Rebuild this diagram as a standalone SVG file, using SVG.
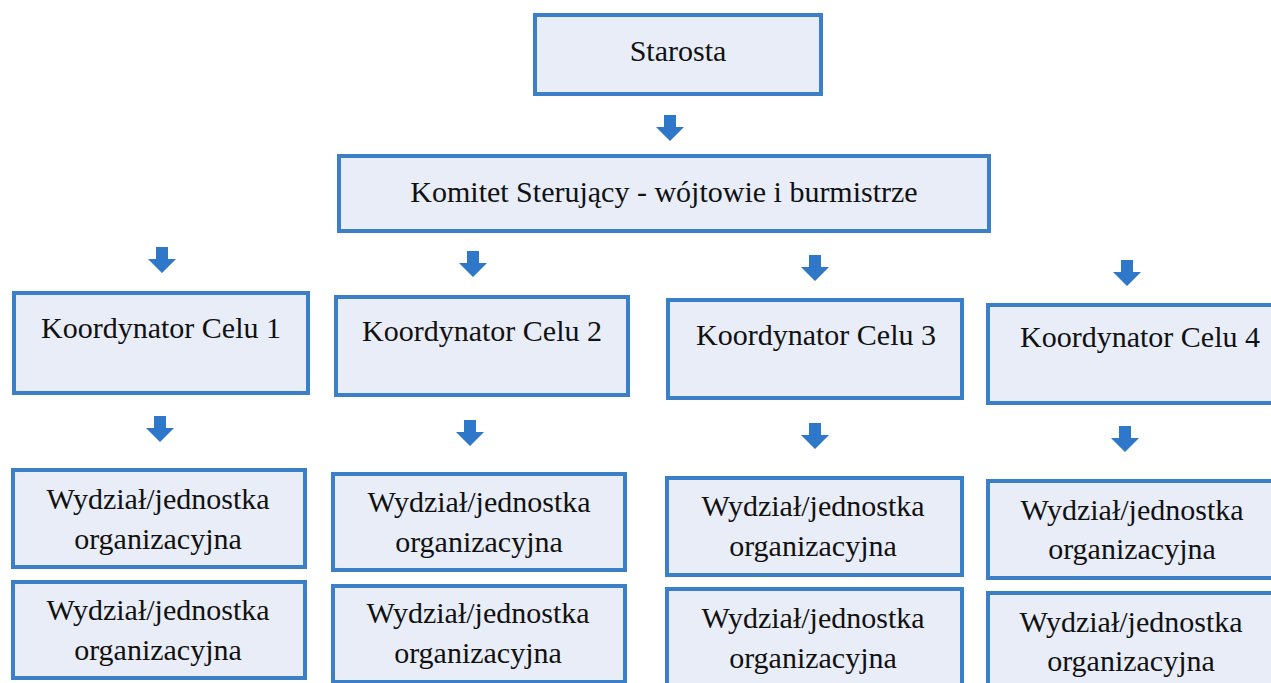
<svg xmlns="http://www.w3.org/2000/svg" width="1271" height="683" viewBox="0 0 1271 683">
<defs>
<style>
.box{fill:#e8edf8;stroke:#3b7fc9;stroke-width:4}
.t{font-family:"Liberation Serif","DejaVu Serif",serif;font-size:30px;fill:#111;text-anchor:middle}
.arr{fill:#2f77c8}
</style>
<path id="a" d="M-6,0 H6 V12 H14 L0,26 L-14,12 H-6 Z"/>
</defs>
<rect width="1271" height="683" fill="#ffffff"/>
<g id="connectors">
<use href="#a" class="arr" x="670" y="115"/>
<use href="#a" class="arr" x="162" y="247"/>
<use href="#a" class="arr" x="473" y="251"/>
<use href="#a" class="arr" x="815" y="255"/>
<use href="#a" class="arr" x="1127" y="260"/>
<use href="#a" class="arr" x="160" y="416"/>
<use href="#a" class="arr" x="470" y="420"/>
<use href="#a" class="arr" x="815" y="423"/>
<use href="#a" class="arr" x="1125" y="426"/>
</g>
<g id="starosta"><rect class="box" x="535" y="15" width="286" height="79"/><text class="t" x="678" y="61">Starosta</text></g>
<g id="komitet"><rect class="box" x="339" y="156" width="650" height="75"/><text class="t" x="664" y="202">Komitet Sterujący - wójtowie i burmistrze</text></g>
<g id="k1"><rect class="box" x="14" y="293" width="294" height="100"/><text class="t" x="161" y="338">Koordynator Celu 1</text></g>
<g id="k2"><rect class="box" x="336" y="297" width="292" height="98"/><text class="t" x="482" y="341">Koordynator Celu 2</text></g>
<g id="k3"><rect class="box" x="668" y="300" width="294" height="98"/><text class="t" x="816" y="345">Koordynator Celu 3</text></g>
<g id="k4"><rect class="box" x="988" y="305" width="290" height="98"/><text class="t" x="1140" y="347">Koordynator Celu 4</text></g>
<g id="w1a"><rect class="box" x="13" y="470" width="292" height="97"/><text class="t" x="158" y="509">Wydział/jednostka</text><text class="t" x="158" y="549">organizacyjna</text></g>
<g id="w1b"><rect class="box" x="13" y="582" width="292" height="96"/><text class="t" x="158" y="620">Wydział/jednostka</text><text class="t" x="158" y="660">organizacyjna</text></g>
<g id="w2a"><rect class="box" x="333" y="474" width="292" height="96"/><text class="t" x="479" y="512">Wydział/jednostka</text><text class="t" x="479" y="552">organizacyjna</text></g>
<g id="w2b"><rect class="box" x="333" y="586" width="292" height="96"/><text class="t" x="478" y="623">Wydział/jednostka</text><text class="t" x="478" y="663">organizacyjna</text></g>
<g id="w3a"><rect class="box" x="667" y="478" width="295" height="97"/><text class="t" x="813" y="516">Wydział/jednostka</text><text class="t" x="813" y="556">organizacyjna</text></g>
<g id="w3b"><rect class="box" x="667" y="589" width="295" height="100"/><text class="t" x="813" y="628">Wydział/jednostka</text><text class="t" x="813" y="668">organizacyjna</text></g>
<g id="w4a"><rect class="box" x="988" y="481" width="290" height="97"/><text class="t" x="1132" y="520">Wydział/jednostka</text><text class="t" x="1132" y="559">organizacyjna</text></g>
<g id="w4b"><rect class="box" x="988" y="593" width="290" height="96"/><text class="t" x="1131" y="632">Wydział/jednostka</text><text class="t" x="1131" y="671">organizacyjna</text></g>
</svg>
